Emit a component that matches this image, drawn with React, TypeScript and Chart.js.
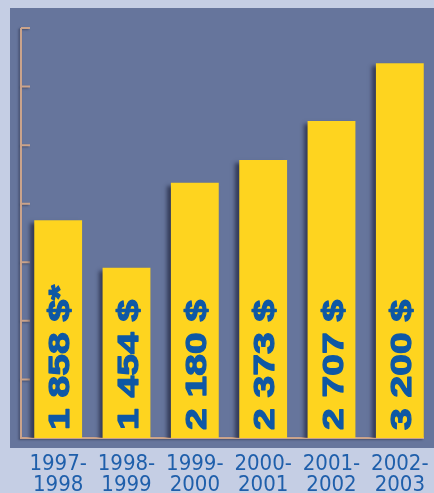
import React, { useEffect, useRef } from "react";
import { Chart, registerables } from "chart.js";

Chart.register(...registerables);

const categories: string[][] = [
  ["1997-", "1998"],
  ["1998-", "1999"],
  ["1999-", "2000"],
  ["2000-", "2001"],
  ["2001-", "2002"],
  ["2002-", "2003"],
];
const values: number[] = [1858, 1454, 2180, 2373, 2707, 3200];
const valueLabels: string[] = ["1 858 $*", "1 454 $", "2 180 $", "2 373 $", "2 707 $", "3 200 $"];
const yMax = 3500;
const yStep = 500;

const OUTER_BG = "#c5cee4";
const PANEL_BG = "#66759c";
const BAR_COLOR = "#fed41f";
const AXIS_COLOR = "#caa38b";
const VALUE_COLOR = "#0e58a5";
const XLABEL_COLOR = "#1f5fab";

const decorPlugin = {
  id: "decor",
  beforeDraw(chart: any) {
    const { ctx, width, height, chartArea } = chart;
    ctx.save();
    ctx.fillStyle = OUTER_BG;
    ctx.fillRect(0, 0, width, height);
    ctx.fillStyle = PANEL_BG;
    const top = chartArea.top - 20;
    const left = chartArea.left - 14;
    ctx.fillRect(left, top, width - left, chartArea.bottom + 10 - top);
    ctx.restore();
  },
  beforeDatasetsDraw(chart: any) {
    const { ctx, chartArea } = chart;
    const y = chart.scales.y;
    const x0 = chartArea.left - 3;
    const yTop = y.getPixelForValue(y.max);
    const yBot = y.getPixelForValue(0);
    ctx.save();
    ctx.strokeStyle = AXIS_COLOR;
    ctx.lineWidth = 2;
    ctx.shadowColor = "rgba(40,45,70,0.55)";
    ctx.shadowOffsetX = -1.5;
    ctx.shadowOffsetY = 1;
    ctx.shadowBlur = 2;
    ctx.beginPath();
    ctx.moveTo(x0, yTop);
    ctx.lineTo(x0, yBot);
    ctx.lineTo(chartArea.right - 10, yBot);
    const tickVals: number[] = [];
    if (y.ticks && y.ticks.length) {
      y.ticks.forEach((t: any) => tickVals.push(t.value));
    } else {
      for (let v = 0; v <= yMax; v += yStep) tickVals.push(v);
    }
    tickVals.forEach((v) => {
      if (v === 0) return;
      const py = y.getPixelForValue(v);
      ctx.moveTo(x0, py);
      ctx.lineTo(x0 + 9, py);
    });
    ctx.stroke();
    ctx.restore();

    ctx.save();
    ctx.shadowColor = "rgba(35,40,65,0.75)";
    ctx.shadowOffsetX = -4;
    ctx.shadowOffsetY = 3;
    ctx.shadowBlur = 4;
  },
  afterDatasetsDraw(chart: any) {
    const { ctx } = chart;
    ctx.restore();
    const meta = chart.getDatasetMeta(0);
    meta.data.forEach((bar: any, i: number) => {
      ctx.save();
      ctx.translate(bar.x + 3, bar.base - 8);
      ctx.rotate(-Math.PI / 2);
      ctx.scale(1.3, 1);
      ctx.font = 'bold 30px "Liberation Sans", Arial, sans-serif';
      ctx.fillStyle = VALUE_COLOR;
      ctx.strokeStyle = VALUE_COLOR;
      ctx.lineWidth = 1.2;
      ctx.lineJoin = "round";
      ctx.textAlign = "left";
      ctx.textBaseline = "middle";
      ctx.fillText(valueLabels[i], 0, 0);
      ctx.strokeText(valueLabels[i], 0, 0);
      ctx.restore();
    });
  },
};

export default function App() {
  const ref = useRef<HTMLCanvasElement | null>(null);
  useEffect(() => {
    document.body.style.margin = "0";
    const canvas = ref.current;
    if (!canvas) return;
    const chart = new Chart(canvas, {
      type: "bar",
      data: {
        labels: categories,
        datasets: [
          {
            data: values,
            backgroundColor: BAR_COLOR,
            borderWidth: 0,
            categoryPercentage: 1,
            barPercentage: 0.7,
          },
        ],
      },
      options: {
        animation: false,
        responsive: false,
        maintainAspectRatio: false,
        layout: { padding: { left: 24, right: 0, top: 28, bottom: 0 } },
        plugins: {
          legend: { display: false },
          tooltip: { enabled: false },
        },
        scales: {
          x: {
            grid: { display: false, drawTicks: false },
            border: { display: false },
            afterFit(scale: any) {
              scale.height = 55;
              scale.paddingLeft = 0;
              scale.paddingRight = 0;
            },
            ticks: {
              color: XLABEL_COLOR,
              padding: 16,
              maxRotation: 0,
              autoSkip: false,
              font: {
                family: '"Liberation Sans Narrow", "DejaVu Sans Condensed", sans-serif',
                size: 22,
                lineHeight: 0.95,
              },
            },
          },
          y: {
            display: false,
            min: 0,
            max: yMax,
            ticks: { stepSize: yStep },
          },
        },
      },
      plugins: [decorPlugin],
    });
    return () => chart.destroy();
  }, []);
  return (
    <div style={{ position: "absolute", left: 0, top: 0, width: 434, height: 493 }}>
      <canvas ref={ref} width={434} height={493} style={{ display: "block", width: 434, height: 493 }} />
    </div>
  );
}
